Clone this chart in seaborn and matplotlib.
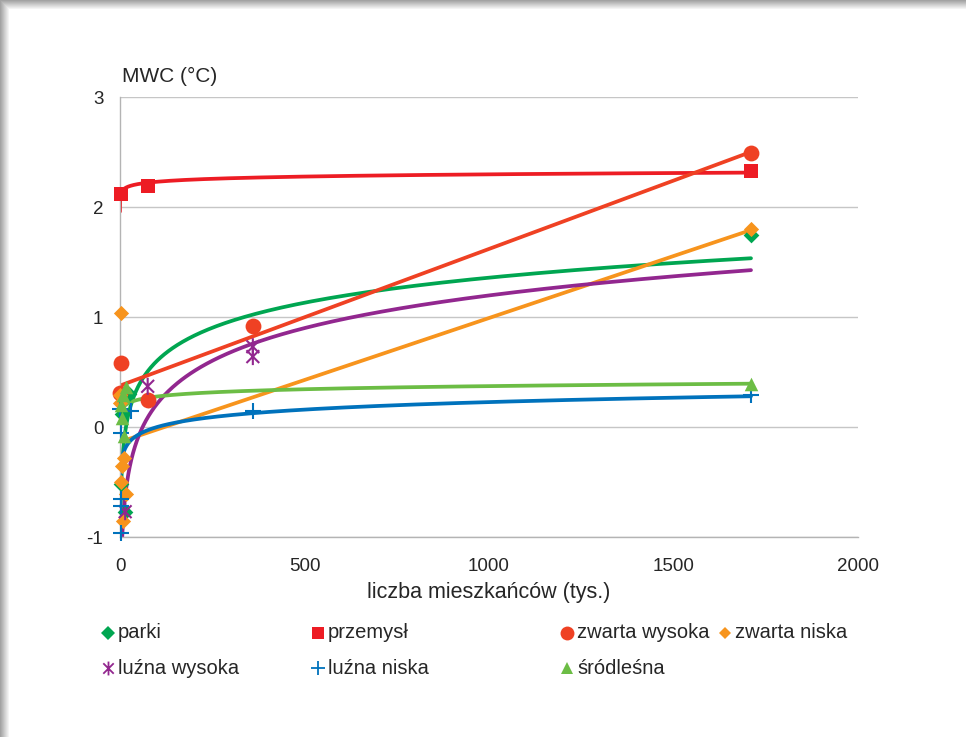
import numpy as np
import matplotlib
matplotlib.use("Agg")
import matplotlib.pyplot as plt
from matplotlib.path import Path
from matplotlib.lines import Line2D
import seaborn as sns

# ---- data: population (thousands) vs. MWC (°C) per land-use class ----
series_names = ["parki", "przemysł", "zwarta wysoka", "zwarta niska",
                "luźna wysoka", "luźna niska", "śródleśna"]

parki_x = [2, 14, 6, 25, 75, 1710]
parki_y = [-0.52, -0.77, 0.12, 0.30, 0.25, 1.75]

przemysl_x = [1.5, 75, 1710]
przemysl_y = [2.12, 2.19, 2.33]

zwarta_wysoka_x = [1, 2, 75, 360, 1710]
zwarta_wysoka_y = [0.31, 0.58, 0.25, 0.92, 2.49]

zwarta_niska_x = [2, 1, 0.5, 12, 16, 6, 9, 4, 1710]
zwarta_niska_y = [1.04, 0.29, 0.22, -0.28, -0.61, -0.35, -0.85, -0.50, 1.80]

luzna_wysoka_x = [360, 360, 75, 14]
luzna_wysoka_y = [0.73, 0.64, 0.37, -0.77]

luzna_niska_x = [1, 30, 1.5, 4, 3, 2, 360, 1710]
luzna_niska_y = [0.16, 0.145, -0.05, -0.65, -0.72, -0.96, 0.15, 0.29]

srodlesna_x = [16, 8, 3, 5, 10, 1710]
srodlesna_y = [0.36, 0.29, 0.20, 0.08, -0.08, 0.39]

trend_kind = ["log", "log", "linear", "linear", "log", "log", "log"]

x_ticks = [0, 500, 1000, 1500, 2000]
y_ticks = [-1, 0, 1, 2, 3]

# ---- styling ----
colors = ["#00a651", "#ed1c24", "#ef4123", "#f7941d", "#92278f", "#0072bc", "#6cbd45"]

star = Path([(0, -1), (0, 1), (-0.75, -0.75), (0.75, 0.75), (-0.75, 0.75), (0.75, -0.75)],
            [Path.MOVETO, Path.LINETO] * 3)
markers = ["D", "s", "o", "D", star, "+", "^"]
sizes = [64, 88, 130, 60, 150, 130, 95]

sns.set_theme(style="white")
plt.rcParams["font.family"] = ["Liberation Sans", "DejaVu Sans"]
plt.rcParams["axes.unicode_minus"] = False

W, H = 966, 737
fig = plt.figure(figsize=(W / 100, H / 100), dpi=100, facecolor="white")

# soft card shadow along the top and left edges
bg = fig.add_axes([0, 0, 1, 1], zorder=-10)
img = np.ones((H, W, 3))
ramp = np.linspace(0.0, 1.0, 10)
shade = 0.64 + 0.36 * ramp
img[:10, :, :] = np.minimum(img[:10, :, :], shade[:, None, None])
img[:, :10, :] = np.minimum(img[:, :10, :], shade[None, :, None])
bg.imshow(img, aspect="auto", interpolation="bilinear")
bg.axis("off")

ax = fig.add_axes([120 / W, 1 - 537 / H, 738 / W, 440 / H])
ax.set_facecolor("white")

xs_all = [parki_x, przemysl_x, zwarta_wysoka_x, zwarta_niska_x,
          luzna_wysoka_x, luzna_niska_x, srodlesna_x]
ys_all = [parki_y, przemysl_y, zwarta_wysoka_y, zwarta_niska_y,
          luzna_wysoka_y, luzna_niska_y, srodlesna_y]
x_max = max(max(xs) for xs in xs_all)

# trend lines fitted to each series, drawn across the whole population range
for xs, ys, kind, c in zip(xs_all, ys_all, trend_kind, colors):
    xa, ya = np.asarray(xs, float), np.asarray(ys, float)
    if kind == "log":
        a, b = np.polyfit(np.log(xa), ya, 1)
        tx = np.geomspace(0.01, x_max, 700)
        ty = a * np.log(tx) + b
    else:
        a, b = np.polyfit(xa, ya, 1)
        tx = np.linspace(0, x_max, 50)
        ty = a * tx + b
    sns.lineplot(x=tx, y=ty, ax=ax, color=c, lw=2.7, sort=False,
                 estimator=None, zorder=2)

# data markers
for xs, ys, m, s, c in zip(xs_all, ys_all, markers, sizes, colors):
    if m == "+":
        sns.scatterplot(x=xs, y=ys, ax=ax, marker=m, s=s, color=c,
                        linewidth=1.5, zorder=3, clip_on=False)
    elif isinstance(m, Path):
        sns.scatterplot(x=xs, y=ys, ax=ax, marker=m, s=s, facecolor="none",
                        edgecolor=c, linewidth=1.5, zorder=3, clip_on=False)
    else:
        sns.scatterplot(x=xs, y=ys, ax=ax, marker=m, s=s, color=c,
                        edgecolor=c, linewidth=0, zorder=3, clip_on=False)

ax.set_xlim(0, 2000)
ax.set_ylim(-1, 3)
ax.set_xticks(x_ticks)
ax.set_yticks(y_ticks)
ax.set_xticklabels([str(v) for v in x_ticks])
ax.set_yticklabels([str(v) for v in y_ticks])
ax.yaxis.grid(True, color="#c6c6c6", lw=1.0)
ax.xaxis.grid(False)
for side in ("top", "right"):
    ax.spines[side].set_visible(False)
for side in ("left", "bottom"):
    ax.spines[side].set_color("#b4b4b4")
    ax.spines[side].set_linewidth(1.0)
ax.tick_params(axis="both", direction="out", length=6, width=1.0,
               color="#b4b4b4", labelsize=13.5, labelcolor="#262626")
ax.tick_params(axis="y", pad=6)
ax.tick_params(axis="x", pad=9)
ax.set_xlabel("liczba mieszkańców (tys.)", fontsize=15.5, color="#262626", labelpad=5)
ax.set_ylabel("")

fig.text(122 / W, 1 - 76 / H, "MWC (°C)", ha="left", va="center",
         fontsize=15, color="#262626")

# legend laid out in two rows of fixed-width columns
leg_pos = [(108, 633), (318, 633), (567, 633), (725, 633),
           (108, 668), (318, 668), (567, 668)]
leg_sizes = [7, 8.5, 10, 6.5, 10, 10, 8.5]
for name, (px, py), m, c, ms in zip(series_names, leg_pos, markers, colors, leg_sizes):
    filled = not (m == "+" or isinstance(m, Path))
    fig.add_artist(Line2D([px / W], [1 - py / H], transform=fig.transFigure,
                          marker=m, markersize=ms, color=c, linestyle="none",
                          markeredgewidth=0 if filled else 1.3,
                          markerfacecolor=c if filled else "none",
                          markeredgecolor=c))
    fig.text((px + 10) / W, 1 - py / H, name, ha="left", va="center",
             fontsize=14.5, color="#262626")

fig.savefig("out.png", dpi=100, facecolor="white")
